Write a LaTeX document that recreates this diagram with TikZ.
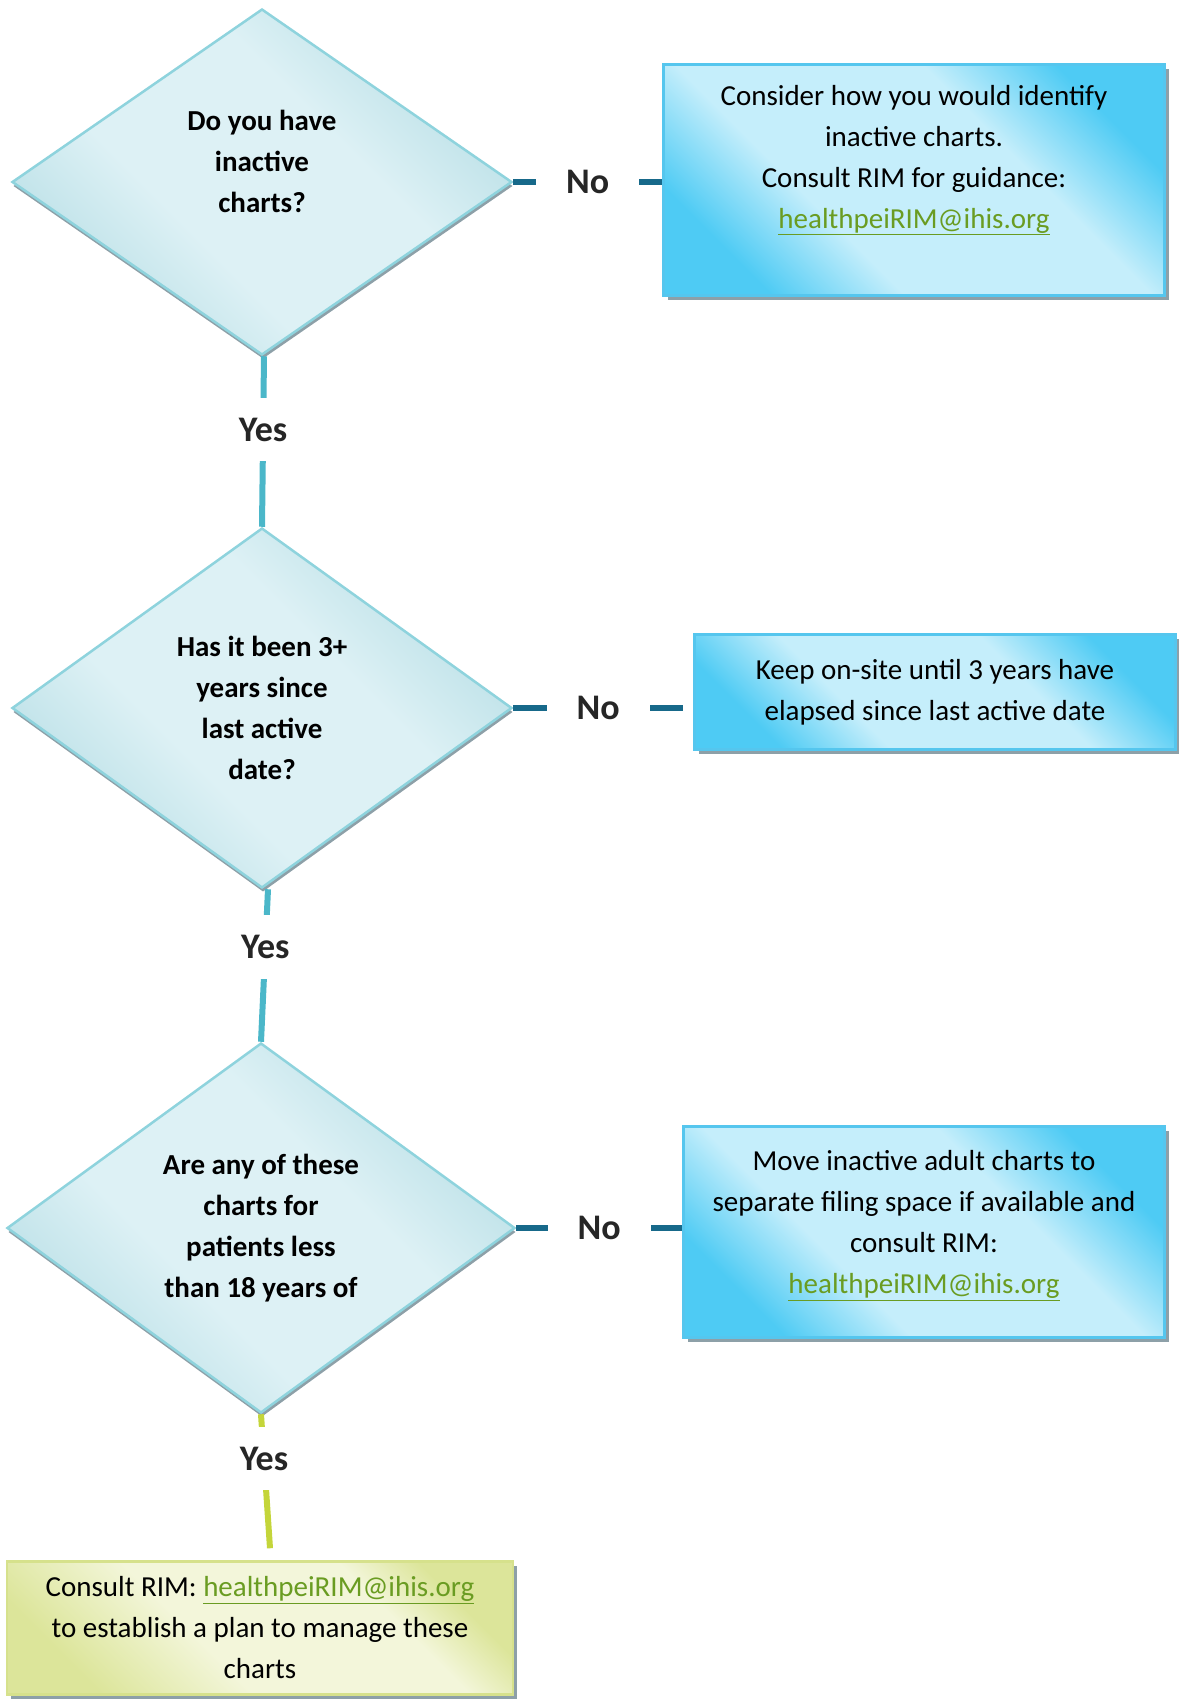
\documentclass[tikz,border=0pt]{standalone}
\usepackage{fontspec}
\setmainfont{Carlito}
\usetikzlibrary{shapes.geometric,shadows}

\definecolor{qfill}{HTML}{B9DFE6}
\definecolor{qlight}{HTML}{DDF1F5}
\definecolor{qborder}{HTML}{8ED3DD}
\definecolor{bdark}{HTML}{4ECBF4}
\definecolor{blight}{HTML}{C5EEFB}
\definecolor{bborder}{HTML}{55C6EE}
\definecolor{gdark}{HTML}{DCE59A}
\definecolor{glight}{HTML}{F3F6DA}
\definecolor{gborder}{HTML}{D6E18C}
\definecolor{yescolor}{HTML}{4BB7C9}
\definecolor{yesgreen}{HTML}{C4D53A}
\definecolor{nocolor}{HTML}{17698A}
\definecolor{shadowgray}{HTML}{8DA0A8}
\definecolor{linkgreen}{HTML}{6A9C22}
\definecolor{labelgray}{HTML}{262626}
\newcommand{\rimlink}[1]{\textcolor{linkgreen}{\underline{#1}}}

% diagonal fills: dark corners, light band through the middle
\pgfdeclareverticalshading{qshade}{100bp}{color(0bp)=(qfill); color(25bp)=(qfill); color(40bp)=(qlight); color(60bp)=(qlight); color(75bp)=(qfill); color(100bp)=(qfill)}
\pgfdeclareverticalshading{bshade}{100bp}{color(0bp)=(bdark); color(25bp)=(bdark); color(38bp)=(blight); color(62bp)=(blight); color(75bp)=(bdark); color(100bp)=(bdark)}
\pgfdeclareverticalshading{gshade}{100bp}{color(0bp)=(gdark); color(25bp)=(gdark); color(42bp)=(glight); color(66bp)=(glight); color(75bp)=(gdark); color(100bp)=(gdark)}

\begin{document}
\begin{tikzpicture}[x=1pt,y=-1pt]
                    \tikzstyle{question}=[diamond,draw=qborder,line width=2.5pt,shading=qshade,shading angle=-45,align=center,inner sep=0pt,font=\bfseries\fontsize{29}{41}\selectfont,drop shadow={shadow xshift=1pt,shadow yshift=-4pt,fill=shadowgray,opacity=1}]
                    \tikzstyle{answer}=[rectangle,line width=2.5pt,align=center,inner sep=0pt,font=\fontsize{29}{41}\selectfont,drop shadow={shadow xshift=4pt,shadow yshift=-4pt,fill=shadowgray,opacity=1}]
                    \tikzstyle{bluebox}=[answer,draw=bborder,shading=bshade,shading angle=-45]
                    \tikzstyle{greenbox}=[answer,draw=gborder,shading=gshade,shading angle=-45]
                    \tikzstyle{noline}=[draw=nocolor,line width=6pt]
                    \tikzstyle{yesline}=[draw=yescolor,line width=6pt]
                    \tikzstyle{nolabel}=[midway,fill=white,inner xsep=30pt,inner ysep=8pt,text=labelgray,font=\bfseries\fontsize{36}{40}\selectfont]
                    \tikzstyle{yeslabel}=[fill=white,inner xsep=8pt,inner ysep=20pt,text=labelgray,font=\bfseries\fontsize{36}{40}\selectfont]
                    \useasboundingbox (0,0) rectangle (1178,1700);
                    % questions
                    \node[question,minimum width=500pt,minimum height=346pt] (q1) at (262,182) {Do you have\\inactive\\charts?\\~};
                    \node[question,minimum width=500pt,minimum height=360pt] (q2) at (262,708) {Has it been 3+\\years since\\last active\\date?};
                    \node[question,minimum width=508pt,minimum height=370pt] (q3) at (261,1228) {Are any of these\\charts for\\patients less\\than 18 years of};
                    % answers
                    \node[bluebox,minimum width=501pt,minimum height=231pt] (a1) at (914,180) {Consider how you would identify\\inactive charts.\\Consult RIM for guidance:\\\rimlink{healthpeiRIM@ihis.org}\\[6pt]~};
                    \node[bluebox,minimum width=481pt,minimum height=115pt] (a2) at (935,692) {Keep on-site until 3 years have\\elapsed since last active date};
                    \node[bluebox,minimum width=481pt,minimum height=211pt] (a3) at (924,1232) {Move inactive adult charts to\\separate filing space if available and\\consult RIM:\\\rimlink{healthpeiRIM@ihis.org}\\[-21pt]~};
                    \node[greenbox,minimum width=506pt,minimum height=133pt] (a4) at (260,1628) {Consult RIM: \rimlink{healthpeiRIM@ihis.org}\\to establish a plan to manage these\\charts};
                    % no branches
                    \draw[noline] (q1.east) -- (q1.east -| a1.west) node[nolabel] {No};
                    \draw[noline] (q2.east) -- ([xshift=-10pt]q2.east -| a2.west) node[nolabel] {No};
                    \draw[noline] (q3.east) -- (q3.east -| a3.west) node[nolabel] {No};
                    % yes branches
                    \draw[yesline] ([xshift=2pt]q1.south) -- node[yeslabel,pos=0.43] {Yes} (q2.north);
                    \draw[yesline] ([xshift=6pt]q2.south) -- node[yeslabel,pos=0.38] {Yes} (q3.north);
                    \draw[yesline,draw=yesgreen] (q3.south) -- node[yeslabel,pos=0.33] {Yes} ([xshift=10pt,yshift=12pt]a4.north);
                \end{tikzpicture}
\end{document}
